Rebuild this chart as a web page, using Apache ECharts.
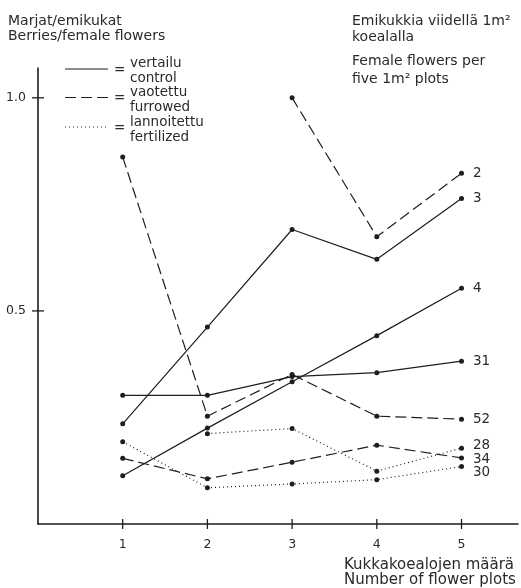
<!DOCTYPE html>
<html><head><meta charset="utf-8">
<script src="https://cdn.jsdelivr.net/npm/echarts@6/dist/echarts.min.js"></script>
<style>html,body{margin:0;padding:0;background:#fff}#c{width:521px;height:588px}</style>
</head><body><div id="c"></div>
<script>
// ---- data ----
const xValues = [1, 2, 3, 4, 5];
const xTickLabels = ['1', '2', '3', '4', '5'];
const yTickValues = [0.5, 1.0];
const s2  = [null, null, 1.000, 0.674, 0.823];   // furrowed
const s3  = [0.235, 0.462, 0.691, 0.621, 0.764]; // control
const s4  = [0.113, 0.225, 0.334, 0.442, 0.553]; // control
const s31 = [0.302, 0.302, 0.346, 0.355, 0.382]; // control
const s52 = [0.861, 0.253, 0.351, 0.253, 0.246]; // furrowed
const s28 = [null, 0.212, 0.224, 0.124, 0.178];  // fertilized
const s34 = [0.154, 0.106, 0.145, 0.185, 0.155]; // furrowed
const s30 = [0.193, 0.085, 0.094, 0.104, 0.135]; // fertilized
const seriesNames = ['2', '3', '4', '31', '52', '28', '34', '30'];
const seriesValues = [s2, s3, s4, s31, s52, s28, s34, s30];
const seriesKinds = ['furrowed', 'control', 'control', 'control', 'furrowed', 'fertilized', 'furrowed', 'fertilized'];

// ---- styles ----
const INK = '#1e1e1e';
const TXT = '#2a2a2a';
const FONT = 'DejaVu Sans';
const dashFor = { control: 'solid', furrowed: [11, 5], fertilized: [1, 3] };
const labelOffset = { '2': [0, 0], '3': [0, 0], '4': [0, 0], '31': [0, 0], '52': [0, 0], '28': [0, -3], '34': [0, 2], '30': [0, 6] };

const series = seriesNames.map((name, si) => {
  const vals = seriesValues[si];
  const pts = [];
  xValues.forEach((x, i) => { if (vals[i] !== null) pts.push([x, vals[i]]); });
  const data = pts.map((p, i) => i === pts.length - 1
    ? { value: p, label: { show: true, position: 'right', distance: 9, offset: labelOffset[name], formatter: name,
        color: TXT, fontFamily: FONT, fontSize: 13.5 } }
    : { value: p });
  return {
    type: 'line', name: name, data: data,
    symbol: 'circle', symbolSize: 5, showSymbol: true,
    itemStyle: { color: INK },
    lineStyle: { color: INK, width: 1.2, type: dashFor[seriesKinds[si]] },
    animation: false, silent: true, z: 3
  };
});

// crossing tick marks, positioned through the axes' scales
const tickStyle = { stroke: INK, lineWidth: 1.3 };
series.push({
  type: 'custom', silent: true, clip: false, animation: false, z: 4,
  data: xValues.map(v => [v, 0]),
  renderItem: (params, api) => {
    const p = api.coord([api.value(0), 0]);
    return { type: 'line', shape: { x1: p[0], y1: p[1] - 5, x2: p[0], y2: p[1] + 5 }, style: tickStyle };
  }
});
series.push({
  type: 'custom', silent: true, clip: false, animation: false, z: 4,
  data: yTickValues.map(v => [0, v]),
  renderItem: (params, api) => {
    const p = api.coord([0, api.value(1)]);
    return { type: 'line', shape: { x1: p[0] - 6, y1: p[1], x2: p[0] + 6, y2: p[1] }, style: tickStyle };
  }
});

const txt = (x, y, s, size) => ({ type: 'text', x: x, y: y,
  style: { text: s, fill: TXT, fontFamily: FONT, fontSize: size || 13, verticalAlign: 'middle' } });
const ln = (x1, y, x2, dash) => ({ type: 'line', shape: { x1: x1, y1: y, x2: x2, y2: y },
  style: { stroke: INK, lineWidth: 1.2, lineDash: dash } });

const chart = echarts.init(document.getElementById('c'), null, { renderer: 'canvas' });
chart.setOption({
  backgroundColor: '#fff',
  animation: false,
  grid: { left: 38, right: 3, top: 68, bottom: 64, containLabel: false },
  xAxis: { type: 'value', min: 0, max: 5.667, splitLine: { show: false },
    axisLine: { show: true, onZero: false, lineStyle: { color: INK, width: 1.6 } },
    axisTick: { show: false },
    axisLabel: { show: true, margin: 14, customValues: xValues, color: TXT, fontFamily: FONT, fontSize: 12.5,
      formatter: v => xTickLabels[xValues.indexOf(v)] } },
  yAxis: { type: 'value', min: 0, max: 1.07, splitLine: { show: false },
    axisLine: { show: true, onZero: false, lineStyle: { color: INK, width: 1.6 } },
    axisTick: { show: false },
    axisLabel: { show: true, margin: 12, customValues: yTickValues, color: TXT, fontFamily: FONT, fontSize: 12.5,
      formatter: v => v.toFixed(1) } },
  graphic: [
    txt(8, 21, 'Marjat/emikukat', 14),
    txt(8, 36, 'Berries/female flowers', 14),
    txt(352, 21, 'Emikukkia viidellä 1m²', 14),
    txt(352, 37, 'koealalla', 14),
    txt(352, 61, 'Female flowers per', 14),
    txt(352, 79, 'five 1m² plots', 14),
    ln(65, 69, 108, null),
    txt(114, 70, '=', 13.5),
    txt(130, 63, 'vertailu', 13.5),
    txt(130, 78, 'control', 13.5),
    ln(65, 97.5, 108, [11, 5]),
    txt(114, 98, '=', 13.5),
    txt(130, 92, 'vaotettu', 13.5),
    txt(130, 107, 'furrowed', 13.5),
    ln(65, 127, 108, [1, 3]),
    txt(114, 128, '=', 13.5),
    txt(130, 122, 'lannoitettu', 13.5),
    txt(130, 137, 'fertilized', 13.5),
    txt(344, 565, 'Kukkakoealojen määrä', 15),
    txt(344, 580, 'Number of flower plots', 15)
  ],
  series: series
});
</script>
</body></html>
